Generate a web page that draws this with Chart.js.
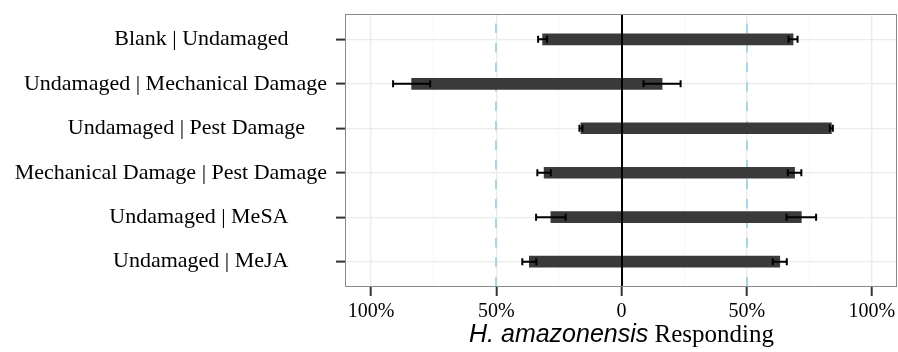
<!DOCTYPE html>
<html>
<head>
<meta charset="utf-8">
<script src="https://cdn.jsdelivr.net/npm/chart.js@4/dist/chart.umd.min.js"></script>
<style>
  html, body { margin: 0; padding: 0; background: #ffffff; }
  #wrap { width: 898px; height: 352px; }
</style>
</head>
<body>
<div id="wrap"><canvas id="choice" width="898" height="352"></canvas></div>
<script>
// Paired-choice comparisons (trailing spaces keep the labels' original padding)
const comparisons = [
  'Blank | Undamaged       ',
  'Undamaged | Mechanical Damage',
  'Undamaged | Pest Damage    ',
  'Mechanical Damage | Pest Damage',
  'Undamaged | MeSA       ',
  'Undamaged | MeJA       '
];
// Share of insects choosing the first option (drawn to the left, negative)
const firstChoice = [-31.5, -83.8, -16.2, -30.9, -28.2, -36.8];
// Share of insects choosing the second option (drawn to the right)
const secondChoice = [68.5, 16.2, 83.8, 69.1, 71.8, 63.2];
// Standard error of each proportion
const stdError = [1.8, 7.4, 0.6, 2.7, 5.9, 2.8];

const xTickValues = [-100, -50, 0, 50, 100];
const xTickLabels = ['100%', '50%', '0', '50%', '100%'];
const xMinorValues = [-75, -25, 25, 75];
const refLines = [-50, 50];

const rows = comparisons.map((_, i) => i);
const toPoints = vals => vals.map((v, i) => ({ x: v, y: i }));
const isMajor = v => xTickValues.includes(v);

const barStyle = {
  backgroundColor: '#3a3a3a',
  borderWidth: 0,
  barThickness: 11,
  grouped: false
};

// Dashed 50% reference lines, under the bars
const refLinePlugin = {
  id: 'refLines',
  beforeDatasetsDraw(chart) {
    const { ctx, chartArea: a, scales: { x } } = chart;
    ctx.save();
    ctx.strokeStyle = '#a6d5e4';
    ctx.lineWidth = 2;
    ctx.setLineDash([9.5, 10]);
    ctx.lineDashOffset = 10;
    refLines.forEach(v => {
      const px = Math.round(x.getPixelForValue(v));
      ctx.beginPath();
      ctx.moveTo(px, a.top);
      ctx.lineTo(px, a.bottom);
      ctx.stroke();
    });
    ctx.restore();
  }
};

// Error bars at the end of every bar, then the zero line and panel border
const overlayPlugin = {
  id: 'overlay',
  afterDatasetsDraw(chart) {
    const { ctx, chartArea: a, scales: { x } } = chart;
    ctx.save();
    ctx.strokeStyle = '#000000';
    ctx.lineWidth = 2;
    chart.data.datasets.forEach((ds, d) => {
      const meta = chart.getDatasetMeta(d);
      meta.data.forEach((bar, i) => {
        const v = ds.data[i].x;
        const e = ds.errors[i];
        const x1 = x.getPixelForValue(v - e);
        const x2 = x.getPixelForValue(v + e);
        const y = bar.y;
        ctx.beginPath();
        ctx.moveTo(x1, y); ctx.lineTo(x2, y);
        ctx.moveTo(x1, y - 3.5); ctx.lineTo(x1, y + 3.5);
        ctx.moveTo(x2, y - 3.5); ctx.lineTo(x2, y + 3.5);
        ctx.stroke();
      });
    });
    const x0 = Math.round(x.getPixelForValue(0));
    ctx.beginPath();
    ctx.moveTo(x0, a.top);
    ctx.lineTo(x0, a.bottom);
    ctx.stroke();
    ctx.strokeStyle = '#8a8a8a';
    ctx.lineWidth = 1;
    ctx.strokeRect(a.left - 0.5, a.top + 0.5, a.right - a.left, a.bottom - a.top - 1);
    ctx.restore();
  }
};

// Axis title: italic species name followed by a roman word
const titlePlugin = {
  id: 'axisTitle',
  afterDraw(chart) {
    const { ctx, chartArea: a } = chart;
    const italicFont = 'italic 25px "Liberation Sans"';
    const romanFont = '25px "Liberation Serif"';
    const partA = 'H. amazonensis';
    const partB = ' Responding';
    ctx.save();
    ctx.fillStyle = '#000000';
    ctx.textBaseline = 'alphabetic';
    ctx.textAlign = 'left';
    ctx.font = italicFont;
    const wA = ctx.measureText(partA).width;
    ctx.font = romanFont;
    const wB = ctx.measureText(partB).width;
    const cx = (a.left + a.right) / 2;
    const y = a.bottom + 55;
    let sx = cx - (wA + wB) / 2;
    ctx.font = italicFont;
    ctx.fillText(partA, sx, y);
    ctx.font = romanFont;
    ctx.fillText(partB, sx + wA, y);
    ctx.restore();
  }
};

new Chart(document.getElementById('choice'), {
  type: 'bar',
  data: {
    datasets: [
      { label: 'first', data: toPoints(firstChoice), errors: stdError, ...barStyle },
      { label: 'second', data: toPoints(secondChoice), errors: stdError, ...barStyle }
    ]
  },
  options: {
    indexAxis: 'y',
    responsive: false,
    animation: false,
    devicePixelRatio: 1,
    layout: { padding: { top: 14, right: 1, left: 0, bottom: 0 } },
    plugins: { legend: { display: false }, tooltip: { enabled: false } },
    scales: {
      x: {
        type: 'linear',
        min: -110,
        max: 110,
        offset: false,
        afterBuildTicks: s => {
          s.ticks = [...xTickValues, ...xMinorValues].sort((p, q) => p - q).map(v => ({ value: v }));
        },
        afterFit: s => { s.height = 65; s.paddingLeft = 0; s.paddingRight = 0; },
        border: { display: false },
        grid: {
          offset: false,
          color: c => isMajor(c.tick.value) ? '#ebebeb' : '#f4f4f4',
          lineWidth: c => isMajor(c.tick.value) ? 1.4 : 0.8,
          tickColor: c => isMajor(c.tick.value) ? '#333333' : 'rgba(0,0,0,0)',
          tickLength: 9,
          tickWidth: 2
        },
        ticks: {
          callback: v => { const k = xTickValues.indexOf(v); return k >= 0 ? xTickLabels[k] : ''; },
          font: { family: 'Liberation Serif', size: 20 },
          color: '#000000',
          padding: 4,
          maxRotation: 0,
          autoSkip: false
        }
      },
      y: {
        type: 'linear',
        reverse: true,
        min: -0.57,
        max: 5.57,
        offset: false,
        afterBuildTicks: s => { s.ticks = rows.map(v => ({ value: v })); },
        afterFit: s => { s.width = 346; s.paddingTop = 0; s.paddingBottom = 0; },
        border: { display: false },
        grid: {
          offset: false,
          color: '#ebebeb',
          lineWidth: 1.2,
          tickColor: '#333333',
          tickLength: 10,
          tickWidth: 2
        },
        ticks: {
          callback: v => comparisons[v],
          font: { family: 'Liberation Serif', size: 22 },
          color: '#000000',
          padding: 9,
          autoSkip: false
        }
      }
    }
  },
  plugins: [refLinePlugin, overlayPlugin, titlePlugin]
});
</script>
</body>
</html>
